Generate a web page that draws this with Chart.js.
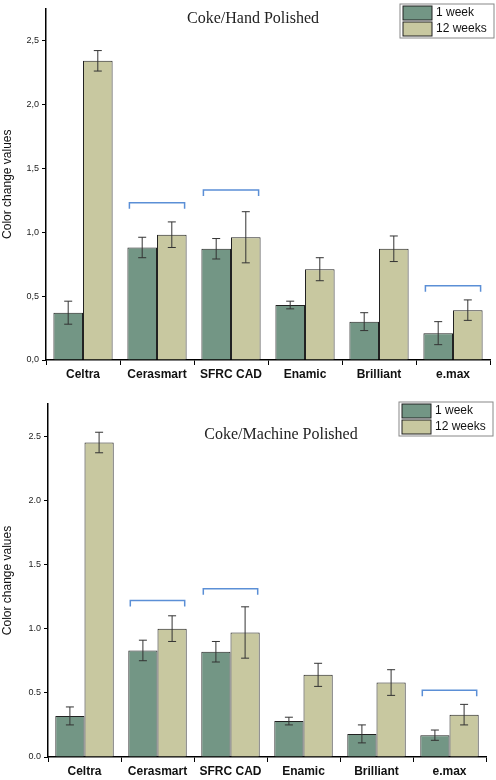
<!DOCTYPE html>
<html><head><meta charset="utf-8">
<script src="https://cdn.jsdelivr.net/npm/chart.js@4/dist/chart.umd.min.js"></script>
<style>body{margin:0;background:#fff}.w{position:absolute;left:0;width:496px;height:390px}</style>
</head><body>
<div class="w" style="top:0"><canvas id="c1"></canvas></div>
<div class="w" style="top:390px"><canvas id="c2"></canvas></div>
<script>
const categories=['Celtra','Cerasmart','SFRC CAD','Enamic','Brilliant','e.max'];
const seriesNames=['1 week','12 weeks'];
const handWeek1=[0.37,0.88,0.87,0.43,0.30,0.21];
const handWeek1Err=[0.09,0.08,0.08,0.03,0.07,0.09];
const handWeek12=[2.34,0.98,0.96,0.71,0.87,0.39];
const handWeek12Err=[0.08,0.10,0.20,0.09,0.10,0.08];
const handBrackets=[[1,1.23],[2,1.33],[5,0.58]];
const machWeek1=[0.32,0.83,0.82,0.28,0.18,0.17];
const machWeek1Err=[0.07,0.08,0.08,0.03,0.07,0.04];
const machWeek12=[2.45,1.00,0.97,0.64,0.58,0.33];
const machWeek12Err=[0.08,0.10,0.20,0.09,0.10,0.08];
const machBrackets=[[1,1.22],[2,1.31],[5,0.52]];
const yTicks=[0,0.5,1,1.5,2,2.5];
const colors=['#739685','#c8c8a0'];

function make(id,title,d1,e1,d2,e2,br,comma,lay){
  const extras={id:'extras',afterDatasetsDraw(ch){
    const c=ch.ctx,ys=ch.scales.y,ca=ch.chartArea;
    c.save();
    [e1,e2].forEach((errs,di)=>{
      const meta=ch.getDatasetMeta(di);
      meta.data.forEach((b,i)=>{
        const v=ch.data.datasets[di].data[i];
        const t=ys.getPixelForValue(v+errs[i]),bt=ys.getPixelForValue(v-errs[i]);
        c.strokeStyle='#333';c.lineWidth=1;c.beginPath();
        c.moveTo(b.x,t);c.lineTo(b.x,bt);
        c.moveTo(b.x-4,t);c.lineTo(b.x+4,t);
        c.moveTo(b.x-4,bt);c.lineTo(b.x+4,bt);c.stroke();
      });
    });
    br.forEach(([i,v])=>{
      const b0=ch.getDatasetMeta(0).data[i],b1=ch.getDatasetMeta(1).data[i];
      const y=ys.getPixelForValue(v),x0=b0.x-b0.width/2+2,x1=b1.x+b1.width/2-2;
      c.strokeStyle='#5b8fd6';c.lineWidth=1.5;c.beginPath();
      c.moveTo(x0,y+6);c.lineTo(x0,y);c.lineTo(x1,y);c.lineTo(x1,y+6);c.stroke();
    });
    c.fillStyle='#222';c.font='16px "Liberation Serif", serif';c.textAlign='center';c.textBaseline='middle';
    c.fillText(title,lay.tx,lay.ty);
    const lx=lay.lx,ly=lay.ly;
    c.strokeStyle='#888';c.lineWidth=1;c.strokeRect(lx,ly,94,34);
    c.font='12px "Liberation Sans", Arial, sans-serif';c.textAlign='left';
    seriesNames.forEach((n,k)=>{
      c.fillStyle=colors[k];c.fillRect(lx+3,ly+2+k*16,29,14);
      c.strokeStyle='#222';c.strokeRect(lx+3,ly+2+k*16,29,14);
      c.fillStyle='#111';c.fillText(n,lx+36,ly+9+k*16);
    });
    c.restore();
  }};
  new Chart(document.getElementById(id),{type:'bar',
    data:{labels:categories,datasets:[
      {label:seriesNames[0],data:d1,backgroundColor:colors[0],borderColor:'#222',borderWidth:1},
      {label:seriesNames[1],data:d2,backgroundColor:colors[1],borderColor:'#222',borderWidth:1}]},
    options:{responsive:true,maintainAspectRatio:false,animation:false,
      categoryPercentage:0.8,barPercentage:1,
      layout:{padding:{top:lay.pt,right:lay.pr,left:0,bottom:0}},
      plugins:{legend:{display:false},tooltip:{enabled:false}},
      scales:{
        x:{grid:{drawOnChartArea:false,color:'#000',tickLength:5},border:{color:'#000',width:1.5},
          ticks:{color:'#111',font:{family:'"Liberation Sans", Arial',size:12,weight:'bold'},padding:2},
          afterFit(s){s.height=lay.xh;}},
        y:{min:0,max:2.75,grid:{drawOnChartArea:false,color:'#000',tickLength:4},border:{color:'#000',width:1.5},
          afterBuildTicks(s){s.ticks=yTicks.map(v=>({value:v}));},
          ticks:{color:'#222',font:{family:'"Liberation Sans", Arial',size:9},padding:3,
            callback:v=>{const s=v.toFixed(1);return comma?s.replace('.',','):s;}},
          title:{display:true,text:'Color change values',color:'#111',font:{family:'"Liberation Sans", Arial',size:12},padding:0},
          afterFit(s){s.width=lay.yw;}}}},
    plugins:[extras]});
}
make('c1','Coke/Hand Polished',handWeek1,handWeek1Err,handWeek12,handWeek12Err,handBrackets,true,
  {pt:3,pr:6,xh:30,yw:46,tx:253,ty:19,lx:400,ly:4});
make('c2','Coke/Machine Polished',machWeek1,machWeek1Err,machWeek12,machWeek12Err,machBrackets,false,
  {pt:14,pr:10,xh:23,yw:48,tx:281,ty:45,lx:399,ly:12});
</script></body></html>
